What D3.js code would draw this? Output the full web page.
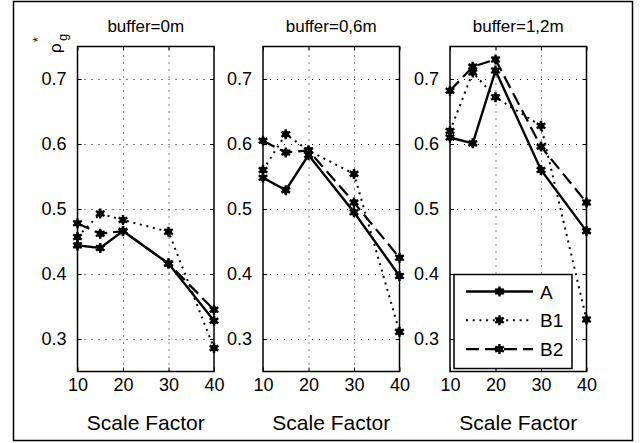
<!DOCTYPE html>
<html>
<head>
<meta charset="utf-8">
<script src="https://cdn.jsdelivr.net/npm/d3@7"></script>
<style>
  body { margin: 0; background: #fff; }
  svg text { font-family: "Liberation Sans", Arial, Helvetica, sans-serif; fill: #000; }
</style>
</head>
<body>
<svg id="chart" width="641" height="443"></svg>
<script>
// values
var scaleFactors = [10, 15, 20, 30, 40];
var panelTitles = ['buffer=0m', 'buffer=0,6m', 'buffer=1,2m'];
var seriesNames = ['A', 'B1', 'B2'];

// one row per panel (buffer 0, 0.6, 1.2 m)
var valuesA = [
  [0.444, 0.440, 0.466, 0.416, 0.328],
  [0.548, 0.529, 0.583, 0.495, 0.397],
  [0.610, 0.601, 0.713, 0.560, 0.466]
];
var valuesB1 = [
  [0.457, 0.493, 0.483, 0.465, 0.286],
  [0.560, 0.615, 0.590, 0.554, 0.311],
  [0.620, 0.710, 0.672, 0.628, 0.330]
];
var valuesB2 = [
  [0.478, 0.462, 0.466, 0.416, 0.345],
  [0.605, 0.587, 0.590, 0.510, 0.425],
  [0.682, 0.719, 0.730, 0.596, 0.510]
];

var xTicks = [10, 20, 30, 40];
var yTicks = [0.3, 0.4, 0.5, 0.6, 0.7];

var svg = d3.select('#chart');
var fontSize = 17;

// figure frame
svg.append('rect')
  .attr('x', 13.5).attr('y', 1.5)
  .attr('width', 619).attr('height', 439)
  .attr('fill', 'none').attr('stroke', '#000').attr('stroke-width', 1.5);

var panelLefts = [77.5, 263, 450];
var panelW = 136.5;
var plotTop = 46.5, plotBottom = 371.5;
var panelH = plotBottom - plotTop;

var styles = {
  A: { dash: null, width: 2.4 },
  B1: { dash: '2,4.7', width: 2 },
  B2: { dash: '13,6', width: 2.2 }
};

function marker(g, x, y) {
  g.append('circle')
    .attr('cx', x).attr('cy', y).attr('r', 3.4)
    .attr('fill', '#000');
  g.append('path')
    .attr('d', d3.symbol(d3.symbolAsterisk, 70)())
    .attr('transform', 'translate(' + x + ',' + y + ')')
    .attr('fill', 'none').attr('stroke', '#000').attr('stroke-width', 2.4);
}

panelTitles.forEach(function(title, p) {
  var x = d3.scaleLinear().domain([10, 40]).range([0, panelW]);
  var y = d3.scaleLinear().domain([0.25, 0.75]).range([panelH, 0]);

  var g = svg.append('g')
    .attr('transform', 'translate(' + panelLefts[p] + ',' + plotTop + ')');

  // dotted grid
  var grid = g.append('g');
  grid.append('g')
    .call(d3.axisLeft(y).tickValues(yTicks).tickSize(-panelW).tickFormat(''));
  grid.append('g')
    .attr('transform', 'translate(0,' + panelH + ')')
    .call(d3.axisBottom(x).tickValues([20, 30]).tickSize(-panelH).tickFormat(''));
  grid.selectAll('.domain').remove();
  grid.selectAll('line')
    .attr('stroke', '#000').attr('stroke-width', 1).attr('stroke-dasharray', '1,6');

  // axes with inward ticks
  var axes = g.append('g');
  axes.append('g')
    .call(d3.axisLeft(y).tickValues(yTicks).tickSize(-4).tickSizeOuter(0)
      .tickPadding(11).tickFormat(d3.format('.1f')));
  axes.append('g')
    .attr('transform', 'translate(0,' + panelH + ')')
    .call(d3.axisBottom(x).tickValues(xTicks).tickSize(-4).tickSizeOuter(0).tickPadding(7));
  axes.append('g')
    .attr('transform', 'translate(' + panelW + ',0)')
    .call(d3.axisRight(y).tickValues(yTicks).tickSize(-4).tickSizeOuter(0).tickFormat(''));
  axes.append('g')
    .call(d3.axisTop(x).tickValues(xTicks).tickSize(-4).tickSizeOuter(0).tickFormat(''));
  axes.selectAll('.domain').remove();
  axes.selectAll('.tick line').attr('stroke', '#000').attr('stroke-width', 1);
  axes.selectAll('text').attr('font-size', 18).attr('font-family', null);

  // the series
  var panelData = {
    A: valuesA[p],
    B1: valuesB1[p],
    B2: valuesB2[p]
  };
  var line = d3.line()
    .x(function(d, i) { return x(scaleFactors[i]); })
    .y(function(d) { return y(d); });

  seriesNames.forEach(function(name) {
    g.append('path')
      .datum(panelData[name])
      .attr('d', line)
      .attr('fill', 'none')
      .attr('stroke', '#000')
      .attr('stroke-width', styles[name].width)
      .attr('stroke-dasharray', styles[name].dash);
  });
  seriesNames.forEach(function(name) {
    panelData[name].forEach(function(v, i) {
      marker(g, x(scaleFactors[i]), y(v));
    });
  });

  // box
  g.append('rect')
    .attr('width', panelW).attr('height', panelH)
    .attr('fill', 'none').attr('stroke', '#000').attr('stroke-width', 1.5);

  g.append('text')
    .attr('x', panelW / 2).attr('y', -15)
    .attr('text-anchor', 'middle').attr('font-size', fontSize)
    .text(title);
  g.append('text')
    .attr('x', panelW / 2).attr('y', panelH + 58)
    .attr('text-anchor', 'middle').attr('font-size', 21)
    .text('Scale Factor');

  // legend in the last panel
  if (p === 2) {
    var lg = g.append('g').attr('transform', 'translate(4,' + (274.5 - plotTop) + ')');
    lg.append('rect')
      .attr('width', 118).attr('height', 94)
      .attr('fill', '#fff').attr('stroke', '#000').attr('stroke-width', 1.5);
    seriesNames.forEach(function(name, i) {
      var ly = 17 + i * 28.8;
      lg.append('line')
        .attr('x1', 12).attr('x2', 79).attr('y1', ly).attr('y2', ly)
        .attr('stroke', '#000').attr('stroke-width', styles[name].width)
        .attr('stroke-dasharray', styles[name].dash);
      marker(lg, 45.5, ly);
      lg.append('text')
        .attr('x', 86).attr('y', ly + 7)
        .attr('font-size', 19)
        .text(name);
    });
  }
});

// y label, rotated, top left
var yl = svg.append('text')
  .attr('transform', 'translate(61,53) rotate(-90)')
  .attr('font-size', 17);
yl.append('tspan').attr('x', 0).attr('y', 0).text('ρ');
yl.append('tspan').attr('x', 11).attr('y', -19).attr('font-size', 12).text('*');
yl.append('tspan').attr('x', 12).attr('y', 6).attr('font-size', 13).text('g');
</script>
</body>
</html>
